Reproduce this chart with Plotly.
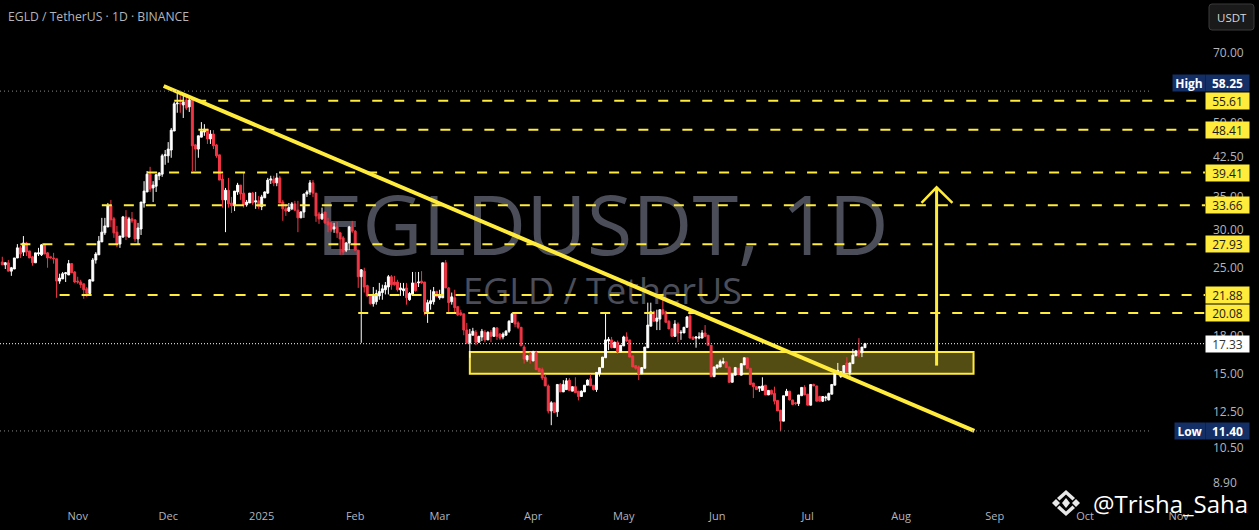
import math
import pandas as pd
import plotly.graph_objects as go

first_day = "2024-10-07"
opens = [25.65,25.3,25.55,24.55,24.8,26.15,27.45,26.9,28.1,27.05,
 26.3,25.55,26.65,26.55,27.85,26.8,26.3,26.15,26.05,23.4,
 23.65,24.25,24.1,25.45,24.45,23.4,23.3,23.1,22.55,22.05,
 23.4,25.9,26.55,28.25,29.5,30.35,33.6,31.55,29.6,27.95,
 28.9,31.85,28.9,31.55,31.4,28.65,30.05,34.05,35.9,39.1,
 36.6,36.9,38.8,39.1,42.7,42.7,43.9,48.1,54.8,55.0,
 54.5,55.8,54.0,55.8,45.0,44.1,46.7,47.85,48.5,46.3,
 47.4,45.0,42.9,38.2,34.55,36.2,34.05,33.6,35.9,37.1,
 35.7,33.75,34.05,35.7,34.2,34.4,33.45,34.9,35.7,38.0,
 38.2,37.5,38.4,34.2,33.1,32.75,33.1,33.9,32.9,31.7,
 32.6,35.55,35.9,37.5,35.7,32.3,31.55,32.6,31.1,30.95,
 30.05,30.35,29.5,28.8,27.15,28.1,30.35,29.75,27.15,23.9,
 24.55,22.9,21.95,21.0,21.2,21.8,22.15,22.45,22.75,23.9,
 23.3,23.3,22.45,22.35,22.65,21.4,21.95,23.2,23.2,23.4,
 23.3,20.2,21.0,21.2,22.25,21.6,21.6,25.55,22.65,21.2,
 21.6,20.7,20.1,20.0,18.5,17.4,18.05,18.3,17.45,17.9,
 18.3,17.65,18.3,17.95,18.7,18.15,17.9,18.05,18.4,19.2,
 20.0,19.15,18.75,17.05,16.05,16.4,15.95,16.6,15.4,15.3,
 14.75,14.15,12.55,13.05,12.5,14.25,13.75,13.9,14.55,13.8,14.1,
 13.8,13.45,13.75,14.2,14.65,14.2,13.9,15.0,15.45,16.2,
 17.55,17.65,17.0,17.45,16.65,17.15,17.9,17.65,16.35,15.6,
 15.5,15.0,15.4,17.0,18.85,20.2,19.3,19.5,20.4,20.2,
 19.3,18.6,17.95,19.05,18.25,18.25,18.75,19.8,17.9,17.8,
 17.8,17.8,18.25,18.05,17.2,14.8,15.45,15.5,15.8,15.9,
 15.5,14.4,14.9,15.4,14.9,15.65,16.2,15.4,14.35,14.1,
 14.0,13.85,14.2,13.55,13.85,13.65,13.2,12.6,11.95,13.5,
 13.8,13.23,13.05,13.0,13.5,14.05,13.6,12.9,14.25,14.15,
 13.45,13.15,13.35,13.23,13.6,14.2,15.1,14.8,15.1,15.8,
 15.1,15.75,16.35,16.8,16.6,17.0]
highs = [26.3,25.65,25.9,25.05,26.15,27.95,27.7,29.05,28.25,27.05,
 26.4,26.8,27.45,27.95,28.0,26.9,26.3,26.8,26.05,24.25,
 24.45,24.45,25.9,25.45,24.55,23.9,23.55,23.1,22.75,23.6,
 26.15,26.9,29.05,31.7,31.7,34.05,34.55,31.85,30.5,29.05,
 32.0,32.9,31.85,32.6,31.4,30.95,34.2,37.8,39.7,40.5,
 37.8,39.1,39.5,43.1,43.9,45.6,48.8,55.3,58.25,58.0,
 56.9,56.9,56.9,56.3,45.2,47.0,50.2,49.7,48.5,48.3,
 48.3,45.2,42.9,39.1,36.6,38.4,35.05,36.05,37.5,37.1,
 39.5,34.55,35.7,35.9,35.9,35.2,35.4,36.0,38.4,38.8,
 38.8,39.3,38.8,34.55,33.9,34.05,34.2,34.4,34.4,32.75,
 35.55,36.2,38.0,38.0,35.7,32.6,33.3,32.6,31.7,31.1,
 30.95,31.1,29.6,29.05,28.25,30.5,31.25,29.9,27.15,24.8,
 24.95,23.0,21.95,22.75,22.45,23.2,23.0,23.3,24.1,24.1,
 24.0,23.55,23.2,23.2,23.2,22.2,24.45,24.45,24.45,24.55,
 23.3,21.4,22.45,22.75,22.35,22.45,25.55,25.9,22.75,22.15,
 22.45,20.7,20.4,20.0,19.15,18.6,18.7,18.5,18.0,18.6,
 18.5,18.4,18.5,18.7,18.7,18.25,18.3,18.5,19.4,20.1,
 20.0,19.3,18.75,17.2,16.4,16.65,16.75,16.75,15.4,15.45,
 14.95,14.25,13.15,13.05,14.25,14.35,14.55,14.7,14.7,14.1,14.75,
 13.8,13.85,14.2,14.6,14.95,14.2,15.1,15.45,16.25,20.0,
 17.9,17.9,17.5,17.6,17.2,18.0,18.3,17.65,16.35,15.6,
 15.6,15.45,17.05,21.1,21.1,20.3,20.4,20.4,22.05,20.3,
 19.4,18.7,19.4,19.2,18.5,18.75,19.8,20.2,17.9,17.95,
 18.3,18.5,18.95,18.05,17.2,15.5,15.65,16.05,16.2,15.95,
 15.5,14.95,15.5,15.4,15.75,16.2,16.2,15.4,14.35,14.1,
 14.1,14.75,14.2,13.85,13.9,14.1,13.2,12.6,13.5,13.95,
 13.8,13.23,13.1,13.55,14.05,14.2,13.6,14.25,14.3,14.15,
 13.5,13.45,13.5,13.7,14.25,15.15,15.8,15.2,15.6,16.25,
 15.8,16.9,16.75,17.8,17.05,17.4]
lows = [25.3,24.8,24.55,24.0,24.8,26.15,26.15,26.4,26.4,26.15,
 25.2,25.55,26.4,26.4,26.65,24.95,26.1,25.45,21.6,23.1,
 23.65,23.3,24.1,24.35,23.2,23.1,22.65,21.5,21.7,21.95,
 23.4,25.45,26.55,28.25,29.2,30.35,30.35,28.8,27.55,27.45,
 28.9,28.5,28.9,30.95,28.25,27.85,29.2,33.3,35.9,35.9,
 34.2,35.9,38.0,38.6,40.9,41.3,42.3,48.1,52.5,52.5,
 51.2,53.2,52.7,39.7,39.7,42.3,46.7,47.0,45.2,45.2,
 44.1,42.3,38.0,33.3,29.6,33.3,32.45,32.75,35.4,34.55,
 33.3,33.45,34.05,33.75,33.1,33.1,32.9,34.9,35.55,37.3,
 36.9,36.9,34.05,31.25,32.0,32.6,32.9,32.75,29.6,31.7,
 31.7,35.05,35.4,35.05,31.1,30.8,31.4,30.8,29.6,29.6,
 29.5,28.8,26.55,26.55,26.9,27.15,29.5,27.15,22.65,17.4,
 22.15,21.7,20.9,20.7,20.9,21.4,21.4,21.95,21.95,22.45,
 22.9,22.25,21.8,21.8,20.9,21.3,21.95,22.25,22.75,23.1,
 19.9,19.15,20.4,20.9,21.7,21.4,21.6,22.65,20.1,20.9,
 20.0,19.8,19.8,18.05,17.3,16.2,18.05,17.2,17.45,17.55,
 17.45,17.65,17.45,17.95,17.65,17.65,17.7,18.05,18.25,19.2,
 18.75,18.6,17.15,15.75,15.9,15.75,15.95,15.3,15.15,14.55,
 14.15,12.4,11.72,12.45,12.2,13.75,13.75,13.9,13.85,13.8,13.7,
 13.2,13.45,13.75,14.2,14.15,13.85,13.75,14.8,15.45,16.2,
 16.8,16.95,17.0,16.5,16.65,17.15,17.5,16.25,15.5,15.3,
 14.55,15.0,15.4,17.0,18.85,19.3,18.5,18.5,19.9,19.2,
 18.6,17.95,17.95,17.45,17.65,18.25,18.75,17.8,17.65,17.0,
 17.7,17.8,17.95,17.2,14.8,14.75,15.35,15.5,15.7,15.45,
 14.35,14.4,14.9,14.95,14.9,15.65,15.4,14.25,13.35,13.9,
 13.75,13.85,13.55,13.55,13.6,12.95,12.55,11.4,11.95,13.5,
 13.2,12.9,12.9,12.85,13.5,13.55,12.9,12.9,14.15,13.15,
 13.15,13.1,13.15,13.2,13.6,14.2,15.0,14.7,15.1,15.15,
 14.8,15.75,16.35,16.25,16.25,17.0]
closes = [25.3,25.55,24.55,24.95,26.15,27.45,26.65,28.1,26.9,26.15,
 25.55,26.8,26.8,27.85,26.65,26.15,26.15,26.05,23.4,23.75,
 24.25,24.35,25.45,24.35,23.3,23.3,23.0,22.45,22.05,23.55,
 25.9,26.65,28.35,29.6,30.5,33.6,31.4,29.5,27.95,29.05,
 31.85,29.05,31.55,31.25,28.65,30.2,34.2,36.05,39.1,36.4,
 37.1,39.0,39.3,42.7,42.9,44.1,48.3,54.8,55.0,54.8,
 55.3,53.7,55.8,44.8,44.1,47.0,48.1,48.5,46.3,47.4,
 44.8,42.7,38.0,34.55,36.2,33.9,33.6,36.05,37.1,35.55,
 33.75,34.2,35.7,34.05,34.4,33.45,35.05,35.9,38.0,38.2,
 37.5,38.4,34.05,33.1,32.75,33.3,33.9,32.9,31.7,32.6,
 35.55,35.9,37.5,35.7,32.0,31.55,32.3,30.95,30.65,29.9,
 30.35,29.5,28.65,26.9,28.1,30.35,29.75,27.15,23.9,24.7,
 22.75,21.8,21.0,21.95,22.05,22.25,22.55,22.9,23.9,23.0,
 23.0,22.45,22.65,22.55,21.6,22.05,23.2,22.35,23.3,23.2,
 20.2,21.1,21.3,22.25,21.7,21.8,25.55,22.65,21.1,21.7,
 20.6,19.9,19.9,18.5,17.4,18.15,18.4,17.45,17.95,18.4,
 17.65,18.3,17.95,18.7,17.95,17.8,18.15,18.4,19.3,20.0,
 19.05,18.75,17.15,16.1,16.35,16.05,16.65,15.3,15.15,14.7,
 14.15,12.55,13.05,12.45,14.25,13.75,14.25,14.5,13.85,14.1,13.7,
 13.45,13.8,14.2,14.55,14.15,13.9,15.1,15.45,16.25,17.65,
 17.7,17.0,17.45,16.65,17.2,17.9,17.55,16.25,15.5,15.4,
 15.0,15.45,17.05,18.95,20.2,19.3,19.6,20.4,20.0,19.2,
 18.6,17.95,19.05,18.25,18.3,18.75,19.7,17.8,17.7,17.9,
 17.9,18.25,17.95,17.2,14.8,15.5,15.65,15.9,15.9,15.45,
 14.4,14.95,15.45,14.95,15.75,16.2,15.4,14.25,14.1,13.9,
 14.1,14.15,13.55,13.85,13.6,13.15,12.55,11.95,13.5,13.8,
 13.23,12.95,13.0,13.55,14.05,13.55,12.9,14.25,14.15,13.15,
 13.15,13.45,13.4,13.65,14.25,15.15,15.25,15.15,15.6,15.15,
 15.8,16.4,16.75,16.5,17.05,17.33]

level_prices = [55.61, 48.41, 39.41, 33.66, 27.93, 21.88, 20.08]
level_starts = ["2024-12-03", "2024-12-11", "2024-11-24", "2024-11-09", "2024-10-13", "2024-10-26", "2025-02-02"]
high_price, low_price, last_price = 58.25, 11.40, 17.33
trend_dates, trend_prices = ["2024-11-29 12:00", "2025-08-25 06:00"], [59.7, 11.4]
zone_dates, zone_prices = ["2025-03-11", "2025-08-25"], [15.0, 16.65]
arrow_dates = ["2025-08-12 18:00", "2025-08-12 18:00"]
arrow_prices = [15.6, 36.7]
head_dates = ["2025-08-07 18:00", "2025-08-12 18:00", "2025-08-18 00:00"]
head_prices = [34.05, 36.7, 34.05]
y_ticks = [70, 50, 42.5, 35, 30, 25, 20, 18, 15, 12.5, 10.5, 8.9]
x_tick_dates = ["2024-11-01", "2024-12-01", "2025-01-01", "2025-02-01", "2025-03-01", "2025-04-01", "2025-05-01",
                "2025-06-01", "2025-07-01", "2025-08-01", "2025-09-01", "2025-10-01", "2025-11-01"]
x_tick_text = ["Nov", "Dec", "2025", "Feb", "Mar", "Apr", "May", "Jun", "Jul", "Aug", "Sep", "Oct", "Nov"]

YEL = "#ffeb3b"
GREY = "#b2b5be"
W, H, AXX, AXB = 1259, 530, 1205, 505
FONT = "Open Sans"
days = pd.date_range(first_day, periods=len(opens), freq="D")
x_range = ["2024-10-06 05:40", "2025-11-09 17:40"]
y_range = [math.log10(7.99), math.log10(90.2)]

fig = go.Figure()
# watermark on the base axes, below everything on the overlaid price axes
fig.add_trace(go.Scatter(x=[0.5], y=[0.536], mode="text", text=["EGLDUSDT, 1D"], xaxis="x", yaxis="y",
                         textfont=dict(family=FONT, size=83, color="#4b4d58"), hoverinfo="skip", showlegend=False))
fig.add_trace(go.Scatter(x=[0.5], y=[0.416], mode="text", text=["EGLD / TetherUS"], xaxis="x", yaxis="y",
                         textfont=dict(family=FONT, size=36, color="#4b4d58"), hoverinfo="skip", showlegend=False))
fig.add_trace(go.Candlestick(x=days, open=opens, high=highs, low=lows, close=closes, xaxis="x2", yaxis="y2",
                             increasing=dict(line=dict(color="#ffffff", width=1), fillcolor="#ffffff"),
                             decreasing=dict(line=dict(color="#f23645", width=1), fillcolor="#f23645"),
                             whiskerwidth=0, showlegend=False))
def line(xs, ys, **kw):
    fig.add_trace(go.Scatter(x=xs, y=ys, mode="lines", xaxis="x2", yaxis="y2", line=kw, hoverinfo="skip", showlegend=False))

for p, s in zip(level_prices, level_starts):
    line([s, x_range[1]], [p, p], color=YEL, width=2, dash="10px,12px")
line(trend_dates, trend_prices, color=YEL, width=4)
line(arrow_dates, arrow_prices, color=YEL, width=3)
line(head_dates, head_prices, color=YEL, width=2.5)
line([x_range[0], "2025-10-23"], [high_price] * 2, color="#8a8a8a", width=1, dash="1px,3px")
line([x_range[0], "2025-10-23"], [low_price] * 2, color="#8a8a8a", width=1, dash="1px,3px")
line([x_range[0], x_range[1]], [last_price] * 2, color="#ffffff", width=1, dash="1px,2px")

shapes = [dict(type="rect", xref="x2", yref="y2", x0=zone_dates[0], x1=zone_dates[1],
               y0=zone_prices[0], y1=zone_prices[1], layer="below",
               fillcolor="rgba(255,235,59,0.33)", line=dict(color=YEL, width=2))]
# USDT button
shapes.append(dict(type="path", xref="paper", yref="paper",
                   path=" ".join(f"{c} {x/AXX:.5f},{1-y/AXB:.5f}" for c, x, y in [
                       ("M", 1212, 4), ("L", 1251, 4), ("Q", 1254, 4), ("", 1254, 7), ("L", 1254, 27), ("Q", 1254, 30), ("", 1251, 30),
                       ("L", 1212, 30), ("Q", 1209, 30), ("", 1209, 27), ("L", 1209, 7), ("Q", 1209, 4), ("", 1212, 4)]) + " Z",
                   fillcolor="#1a1a1a", line=dict(color="#3a3a3a", width=1)))
# exchange logo on the credit
logo = [[(1066, 498), (1070, 503), (1066, 508), (1062, 503)],
        [(1056, 499), (1060, 503), (1056, 507), (1052, 503)],
        [(1076, 499), (1080, 503), (1076, 507), (1072, 503)],
        [(1066, 490), (1075, 498), (1072.5, 500.5), (1066, 494.5), (1059.5, 500.5), (1057, 498)],
        [(1066, 516), (1075, 508), (1072.5, 505.5), (1066, 511.5), (1059.5, 505.5), (1057, 508)]]
for poly in logo:
    shapes.append(dict(type="path", xref="paper", yref="paper", fillcolor="#e8e8e8", line=dict(width=0),
                       path="M " + " L ".join(f"{x/AXX:.5f},{1-y/AXB:.5f}" for x, y in poly) + " Z"))

def tag(text, price, bg, fg, x=1227.5, w=43, bold=False):
    return dict(text=f"<b>{text}</b>" if bold else text, xref="paper", yref="y2", x=x / AXX, y=math.log10(price),
                xanchor="center", yanchor="middle", showarrow=False, bgcolor=bg, width=w, height=16,
                font=dict(family=FONT, size=12, color=fg), borderpad=0)

ann = [tag(f"{p:.2f}", p, YEL, "#1a1a1a") for p in level_prices[::-1]]
ann += [tag(f"{last_price:.2f}", last_price, "#ffffff", "#333333"),
        tag(f"{high_price:.2f}", high_price * 1.04, "#132f66", "#ffffff", bold=True),
        tag("High", high_price * 1.04, "#132f66", "#ffffff", x=1189, w=32, bold=True),
        tag(f"{low_price:.2f}", low_price, "#132f66", "#ffffff", bold=True),
        tag("Low", low_price, "#132f66", "#ffffff", x=1190, w=30, bold=True)]
ann += [dict(text="EGLD / TetherUS · 1D · BINANCE", xref="paper", yref="paper", x=8 / AXX, y=1 - 16 / AXB, xanchor="left",
             yanchor="middle", showarrow=False, xshift=-2, font=dict(family=FONT, size=12.2, color=GREY)),
        dict(text="USDT", xref="paper", yref="paper", x=1231.5 / AXX, y=1 - 17 / AXB, xanchor="center", yanchor="middle",
             showarrow=False, font=dict(family=FONT, size=11.5, color="#d8d8d8")),
        dict(text="@Trisha_Saha", xref="paper", yref="paper", x=1250 / AXX, y=1 - 503 / AXB, xanchor="right", yanchor="middle",
             showarrow=False, font=dict(family=FONT, size=24, color="#ffffff"))]

fig.update_layout(
    width=W, height=H, autosize=False, margin=dict(l=0, r=W - AXX, t=0, b=H - AXB),
    paper_bgcolor="#000000", plot_bgcolor="#000000", showlegend=False, dragmode=False, boxgap=0.08,
    font=dict(family=FONT, size=11.5, color=GREY), shapes=shapes, annotations=ann,
    xaxis=dict(range=[0, 1], visible=False, fixedrange=True),
    yaxis=dict(range=[0, 1], visible=False, fixedrange=True),
    xaxis2=dict(overlaying="x", anchor="y2", type="date", range=x_range, tickmode="array", tickvals=x_tick_dates,
                ticktext=x_tick_text, showgrid=False, zeroline=False, showline=False, rangeslider=dict(visible=False),
                ticks="", tickfont=dict(family=FONT, size=11, color=GREY), ticklabelstandoff=3, side="bottom"),
    yaxis2=dict(overlaying="y", anchor="x2", side="right", type="log", range=y_range, tickmode="array", tickvals=y_ticks,
                ticktext=[f"{v:.2f}" for v in y_ticks], showgrid=False, zeroline=False, showline=False, ticks="",
                ticklabelstandoff=7, tickfont=dict(family=FONT, size=12, color=GREY)),
)
fig.write_html("out.html", config={"displayModeBar": False}, post_script="document.body.style.margin='0';")
